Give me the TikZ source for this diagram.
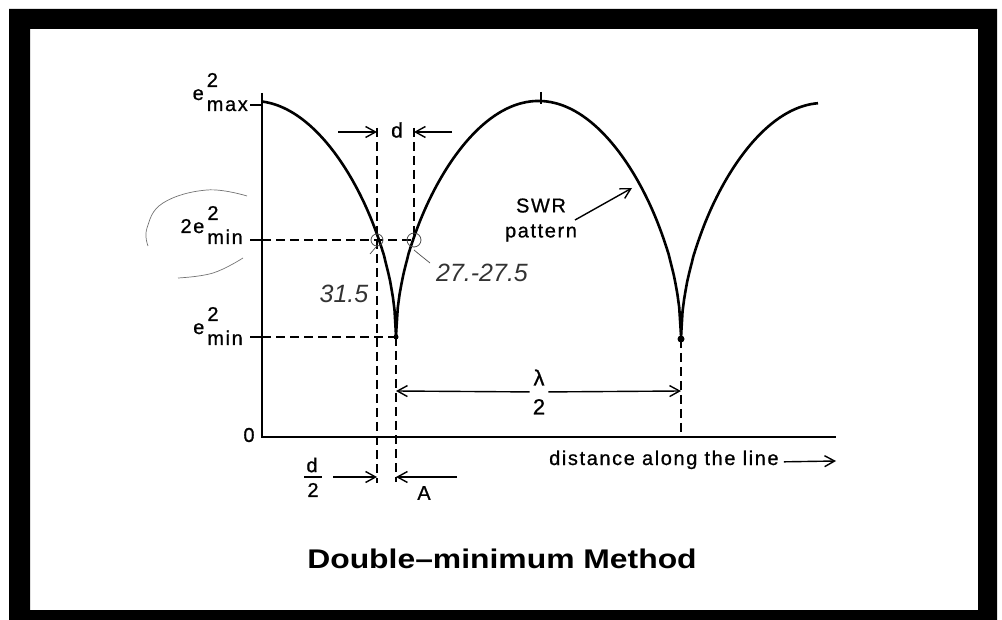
\documentclass[tikz,border=0pt]{standalone}
\usepackage{fontspec}
\usepackage{graphicx}
\setmainfont{Liberation Sans}
\newfontfamily\isofont[LetterSpace=8,FakeBold=0.8]{Liberation Sans}
\newfontfamily\handfont{Liberation Sans}
\usetikzlibrary{arrows.meta,positioning,calc}
% e^2 with a sub label under the exponent
\newcommand{\esq}[2]{#1e\kern3pt\rlap{\raisebox{13pt}{2}}\raisebox{-11pt}{#2}}

\begin{document}
\begin{tikzpicture}[x=1pt,y=-1pt,
  lab/.style={font=\isofont\fontsize{20}{24}\selectfont,inner sep=1pt},
  hand/.style={font=\handfont\itshape\fontsize{25}{28}\selectfont,text=black!80},
  guide/.style={line width=1.8pt,dash pattern=on 9pt off 5pt},
  dim/.style={-{Straight Barb[length=10pt,width=11pt,line width=1.4pt]},line width=1.4pt},
  axis/.style={line width=2.4pt},
  wave/.style={line width=2.6pt,line join=round}
]
\useasboundingbox (0,0) rectangle (1002,620);
% frame
\fill[even odd rule] (9,9) rectangle (997,620) (30,29) rectangle (978,610);

% axes
\coordinate (ytop) at (262,93);
\coordinate (orig) at (262,437);
\coordinate (xend) at (836,437);
\draw[axis] (ytop) -- (orig) -- (xend);

% minima of the pattern
\coordinate (m1) at (396,337);
\coordinate (m2) at (681,339);

% SWR pattern
\draw[wave] plot[domain=263:396,samples=90]
  (\x,{337-236*max(abs(sin(((\x-396)/285)*180)),0.0001)^0.53});
\draw[wave] plot[domain=396:681,samples=160]
  (\x,{337-236*max(abs(sin(((\x-396)/285)*180)),0.0001)^0.53});
\draw[wave] plot[domain=681:818,samples=90]
  (\x,{339-236*max(abs(sin(((\x-681)/285)*180)),0.0001)^0.53});
\draw[line width=1.2pt] (541,92) -- (541,104);
\fill (m1) circle (2.5);
\fill (m2) circle (3.5);

% level labels and ticks
\node[lab,anchor=base east] (emax) at (249,100) {\esq{}{max}};
\node[lab,anchor=base east] (e2min) at (244,233) {\esq{2}{min}};
\node[lab,anchor=base east] (emin) at (244,334) {\esq{}{min}};
\node[lab] (zero) at (249,435) {0};
\coordinate (tmax) at (262,105);
\coordinate (t2min) at (262,240);
\coordinate (tmin) at (262,337);
\draw[line width=1.6pt] (tmax) -- ++(-12,0);
\draw[line width=1.6pt] (t2min) -- ++(-12,0);
\draw[line width=1.6pt] (tmin) -- ++(-12,0);

% guide lines
\coordinate (cL) at (377,240);
\coordinate (cR) at (414,240);
\draw[guide] (t2min) -- (cR);
\draw[guide] (tmin) -- (m1);
\draw[guide] (377,128) -- (377,483);
\draw[guide] (414,128) -- (cR);
\draw[guide] (m1) -- (396,482);
\draw[guide] (m2) -- (681,437);

% d between the crossings
\node[lab,font=\isofont\fontsize{21}{24}\selectfont] (dtop) at (397,130) {d};
\coordinate (dLtip) at (377,132);
\coordinate (dRtip) at (414,132);
\draw[dim] (338,132) -- (dLtip);
\draw[dim] (452,132) -- (dRtip);

% half wavelength
\node[lab,fill=white,align=center,inner sep=3pt,font=\isofont\fontsize{22}{29}\selectfont] (lam) at (539,392) {λ\\2};
\coordinate (lamL) at (396,391);
\coordinate (lamR) at (681,391);
\draw[dim] (lam) -- (lamL);
\draw[dim] (lam) -- (lamR);

% d/2 and A
\node[lab] (dnum) at (312,465) {d};
\node[lab] (dden) at (313,490) {2};
\draw[line width=1.4pt] (304,477) -- (322,477);
\coordinate (dhtip) at (377,477);
\coordinate (atip) at (396,477);
\draw[dim] (333,477) -- (dhtip);
\draw[dim] (457,477) -- (atip);
\node[lab] (aa) at (424,493) {A};

% distance axis label
\node[lab,anchor=base west] (dist) at (548,465) {distance along the line};
\coordinate (distend) at (836,461);
\draw[dim] ($(dist.east)+(4,2)$) -- (distend);

% SWR pattern label
\node[lab,align=center,font=\isofont\fontsize{20}{25}\selectfont] (swrlab) at (541,220) {SWR\\pattern};
\coordinate (swrtip) at (632,188);
\draw[dim] (575,220) -- (swrtip);

% handwritten notes
\draw[black!70,line width=0.8pt] (cL) circle (6);
\draw[black!70,line width=0.8pt] (cR) circle (7);
\draw[black!70,line width=0.7pt] (370,254) -- (376,247);
\draw[black!70,line width=0.7pt] (414,250) .. controls (420,255) .. (430,263);
\draw[black!55,line width=0.7pt] plot[smooth,tension=0.7] coordinates
  {(247,196) (207,190) (163,203) (147,228) (148,246)};
\draw[black!55,line width=0.7pt] plot[smooth,tension=0.7] coordinates
  {(178,278) (213,273) (243,258)};
\node[hand] (n315) at (344,294) {31.5};
\node[hand] (n275) at (482,273) {27.-27.5};

% caption
\node[font=\bfseries\fontsize{27}{30}\selectfont] (title) at (502,559) {\scalebox{1.18}[1]{Double–minimum Method}};
\end{tikzpicture}
\end{document}
